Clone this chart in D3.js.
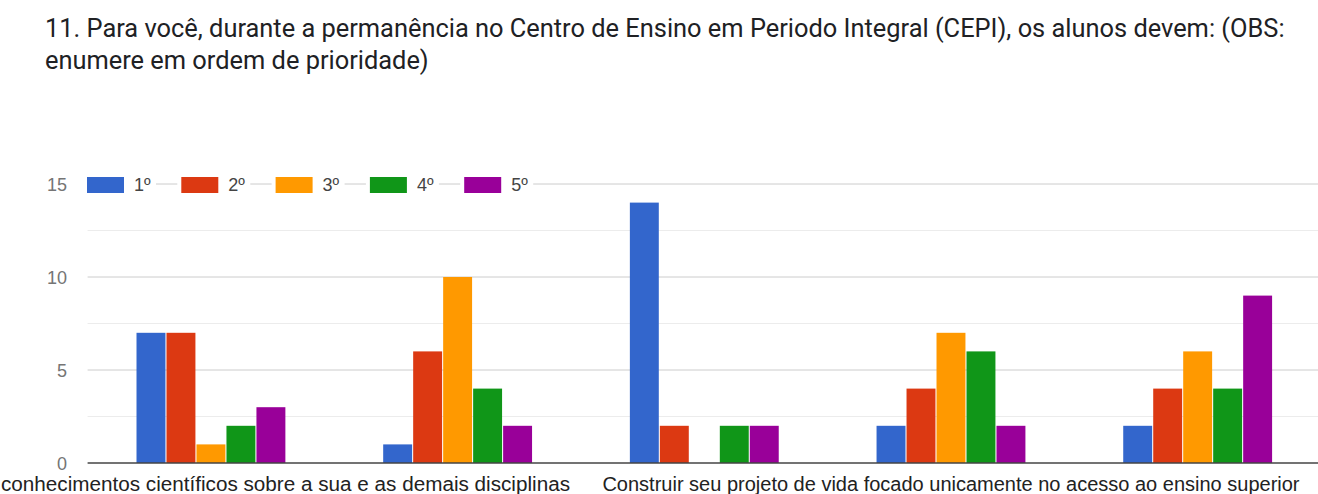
<!DOCTYPE html>
<html>
<head>
<meta charset="utf-8">
<script src="https://cdn.jsdelivr.net/npm/d3@7"></script>
<style>
  html, body { margin: 0; padding: 0; background: #fff; }
  svg { display: block; }
</style>
</head>
<body>
<div id="chart"></div>
<script>
// Question title (two lines)
const titleLines = [
  "11. Para você, durante a permanência no Centro de Ensino em Periodo Integral (CEPI), os alunos devem: (OBS:",
  "enumere em ordem de prioridade)"
];

// Category axis labels (only every third label is shown on the axis)
const categories = [
  "conhecimentos científicos sobre a sua e as demais disciplinas",
  "",
  "",
  "Construir seu projeto de vida focado unicamente no acesso ao ensino superior",
  ""
];

// Priority series
const series = ["1º", "2º", "3º", "4º", "5º"];
const colors = ["#3366cc", "#dc3912", "#ff9900", "#109618", "#990099"];

// Counts per category, one array per priority
const values1 = [7, 1, 14, 2, 2];
const values2 = [7, 6, 2, 4, 4];
const values3 = [1, 10, 0, 7, 6];
const values4 = [2, 4, 2, 6, 4];
const values5 = [3, 2, 2, 2, 9];
const seriesValues = [values1, values2, values3, values4, values5];

// Value axis ticks
const majorTicks = [0, 5, 10, 15];
const minorTicks = [2.5, 7.5, 12.5];

const W = 1318, H = 494;
const plot = { left: 87.6, right: 1321, top: 184, bottom: 463 };

const svg = d3.select("#chart").append("svg")
  .attr("width", W).attr("height", H);

svg.append("rect").attr("width", W).attr("height", H).attr("fill", "#fff");

// Title
svg.append("g").selectAll("text")
  .data(titleLines)
  .join("text")
  .attr("x", 45)
  .attr("y", (d, i) => 37 + i * 32)
  .attr("font-family", "Roboto, 'Noto Sans', sans-serif")
  .attr("font-size", 25.4)
  .attr("fill", "#202124")
  .text(d => d);

// Scales
const idx = d3.range(categories.length);
const x0 = d3.scaleBand()
  .domain(idx)
  .range([plot.left, plot.right])
  .paddingInner(0.388)
  .paddingOuter(0.194);

const x1 = d3.scaleBand()
  .domain(d3.range(series.length))
  .range([0, x0.bandwidth()])
  .padding(0.035);

const y = d3.scaleLinear()
  .domain([0, 15])
  .range([plot.bottom, plot.top]);

// Gridlines
svg.append("g").selectAll("line.minor")
  .data(minorTicks)
  .join("line")
  .attr("x1", plot.left).attr("x2", W)
  .attr("y1", d => y(d)).attr("y2", d => y(d))
  .attr("stroke", "#ececec").attr("stroke-width", 1);

svg.append("g").selectAll("line.major")
  .data(majorTicks.filter(d => d > 0))
  .join("line")
  .attr("x1", plot.left).attr("x2", W)
  .attr("y1", d => y(d)).attr("y2", d => y(d))
  .attr("stroke", "#cccccc").attr("stroke-width", 1);

// Value axis labels
const yAxis = d3.axisLeft(y).tickValues(majorTicks).tickSize(0).tickPadding(0);
const yg = svg.append("g")
  .attr("transform", `translate(67,0)`)
  .call(yAxis);
yg.select(".domain").remove();
yg.selectAll("text")
  .attr("font-family", "'Liberation Sans', Arial, sans-serif")
  .attr("font-size", 18)
  .attr("fill", "#757575")
  .attr("dy", "0.35em");

// Bars
const groups = svg.append("g").selectAll("g")
  .data(idx)
  .join("g")
  .attr("transform", i => `translate(${x0(i)},0)`);

groups.selectAll("rect")
  .data(i => seriesValues.map((vals, s) => ({ s, v: vals[i] })))
  .join("rect")
  .attr("x", d => x1(d.s))
  .attr("width", x1.bandwidth())
  .attr("y", d => y(d.v))
  .attr("height", d => y(0) - y(d.v))
  .attr("fill", d => colors[d.s]);

// Baseline
svg.append("line")
  .attr("x1", plot.left).attr("x2", W)
  .attr("y1", y(0)).attr("y2", y(0))
  .attr("stroke", "#444").attr("stroke-width", 1.5);

// Category labels; the first one runs off the left edge, so it is pinned there
svg.append("g").selectAll("text")
  .data(idx.filter(i => categories[i] !== ""))
  .join("text")
  .attr("x", i => i === 0 ? 1 : x0(i) + x0.bandwidth() / 2)
  .attr("y", 491)
  .attr("text-anchor", i => i === 0 ? "start" : "middle")
  .attr("font-family", "'Liberation Sans', Arial, sans-serif")
  .attr("font-size", 20)
  .attr("fill", "#222")
  .each(function (i) {
    if (i === 0) {
      d3.select(this).attr("textLength", 569).attr("lengthAdjust", "spacingAndGlyphs");
    }
  })
  .text(i => categories[i]);

// Legend
const legendStep = 94.3;
const legend = svg.append("g")
  .attr("transform", `translate(87,0)`);
const items = legend.selectAll("g")
  .data(series)
  .join("g")
  .attr("transform", (d, i) => `translate(${i * legendStep},0)`);
items.append("rect")
  .attr("x", -4).attr("y", 172)
  .attr("width", 73).attr("height", 26)
  .attr("fill", "#fff");
items.append("rect")
  .attr("x", 0).attr("y", 177)
  .attr("width", 37).attr("height", 16)
  .attr("fill", (d, i) => colors[i]);
items.append("text")
  .attr("x", 47).attr("y", 191)
  .attr("font-family", "'Liberation Sans', Arial, sans-serif")
  .attr("font-size", 18)
  .attr("fill", "#444")
  .text(d => d);
</script>
</body>
</html>
